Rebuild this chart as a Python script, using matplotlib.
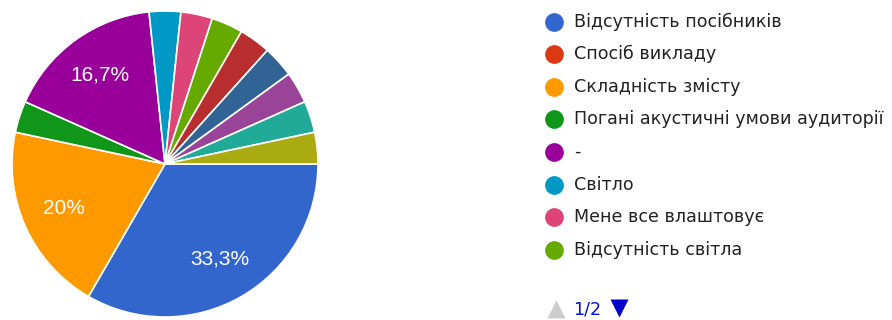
import matplotlib.pyplot as plt

# data (30 responses), order as in the legend
labels = ['Відсутність посібників', 'Спосіб викладу', 'Складність змісту',
          'Погані акустичні умови аудиторії', '-', 'Світло',
          'Мене все влаштовує', 'Відсутність світла',
          '', '', '', '', '']
counts = [10, 0, 6, 1, 5, 1, 1, 1, 1, 1, 1, 1, 1]
colors = ['#3366cc', '#dc3912', '#ff9900', '#109618', '#990099', '#0099c6',
          '#dd4477', '#66aa00', '#b82e2e', '#316395', '#994499', '#22aa99',
          '#aaaa11']
legend_page = 8  # items shown on page 1/2

plt.rcParams['font.family'] = ['Liberation Sans', 'DejaVu Sans']

W, H = 892, 320
fig = plt.figure(figsize=(W / 100, H / 100), dpi=100)

# pie axes: centre (165,164) px, radius 153 px
cx, cy, r = 165, 164, 153
ax = fig.add_axes([(cx - r) / W, (H - cy - r) / H, 2 * r / W, 2 * r / H])

vals = [c for c in counts if c > 0]
cols = [col for c, col in zip(counts, colors) if c > 0]


def pct(p):
    if p < 5:
        return ''
    return ('%.1f' % p).rstrip('0').rstrip('.').replace('.', ',') + '%'


wedges, texts, autotexts = ax.pie(vals, colors=cols, startangle=0, counterclock=False,
                                  autopct=pct, pctdistance=0.72,
                                  wedgeprops=dict(edgecolor='white', linewidth=1.2))
for t in autotexts:
    t.set_color('white')
    t.set_fontsize(15)
ax.set_xlim(-1.0, 1.0)
ax.set_ylim(-1.0, 1.0)

# legend drawn in pixel coordinates
lax = fig.add_axes([0, 0, 1, 1])
lax.set_xlim(0, W)
lax.set_ylim(H, 0)
lax.axis('off')
y0, dy = 21.5, 32.6
for i in range(legend_page):
    y = y0 + i * dy
    lax.plot(554, y, 'o', ms=13.5, color=colors[i], mec='none')
    lax.text(574, y, labels[i], fontsize=12.6, family='DejaVu Sans',
             color='#222222', va='center', ha='left')

lax.plot(556, 309, '^', ms=13, color='#cccccc', mec='none')
lax.text(573, 309, '1/2', fontsize=12.6, family='DejaVu Sans',
         color='#0011cc', va='center', ha='left')
lax.plot(619, 308, 'v', ms=13, color='#0000cc', mec='none')

fig.savefig('out.png', dpi=100, facecolor='white')
